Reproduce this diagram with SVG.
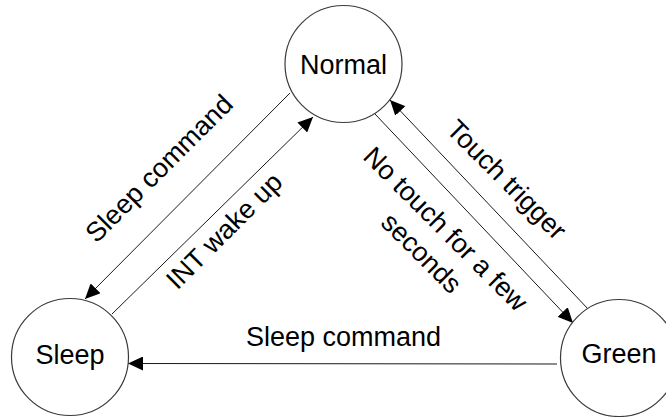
<svg xmlns="http://www.w3.org/2000/svg" width="666" height="417" viewBox="0 0 666 417">
  <style>
    .node { fill: #ffffff; stroke: #3a3a3a; stroke-width: 1.2; }
    .lbl { font-family: "Liberation Sans", Arial, sans-serif; font-size: 27px; fill: #000000; text-anchor: middle; }
    .edge { stroke: #1a1a1a; stroke-width: 1; fill: none; marker-end: url(#arrow); }
  </style>
  <defs>
    <marker id="arrow" markerUnits="userSpaceOnUse" markerWidth="16" markerHeight="14" refX="15" refY="7" orient="auto">
      <path d="M0,0 L15,7 L0,14 z" fill="#000000"/>
    </marker>
  </defs>
  <rect width="666" height="417" fill="#ffffff"/>

  <g id="connectors">
    <line class="edge" x1="290" y1="93" x2="85" y2="299"/>
    <line class="edge" x1="112" y1="314" x2="313" y2="117"/>
    <line class="edge" x1="375" y1="114" x2="573" y2="323"/>
    <line class="edge" x1="589" y1="310" x2="390" y2="100"/>
    <line class="edge" x1="557" y1="364" x2="128" y2="363.5"/>

    <text class="lbl" transform="translate(165.6,174.9) rotate(-45)">Sleep command</text>
    <text class="lbl" transform="translate(230.6,237.4) rotate(-45)">INT wake up</text>
    <text class="lbl" transform="translate(500.1,186.2) rotate(45)">Touch trigger</text>
    <text class="lbl" transform="translate(439.1,235.4) rotate(45)"><tspan x="0" y="0">No touch for a few</tspan><tspan x="0" y="34">seconds</tspan></text>
    <text class="lbl" x="343.5" y="346">Sleep command</text>
  </g>

  <g id="normal">
    <circle class="node" cx="343.5" cy="64" r="58.5"/>
    <text class="lbl" x="343.5" y="74">Normal</text>
  </g>
  <g id="sleep">
    <circle class="node" cx="70" cy="357" r="58.5"/>
    <text class="lbl" x="70" y="364">Sleep</text>
  </g>
  <g id="green">
    <circle class="node" cx="619" cy="358" r="58.5"/>
    <text class="lbl" x="619" y="363">Green</text>
  </g>
</svg>
